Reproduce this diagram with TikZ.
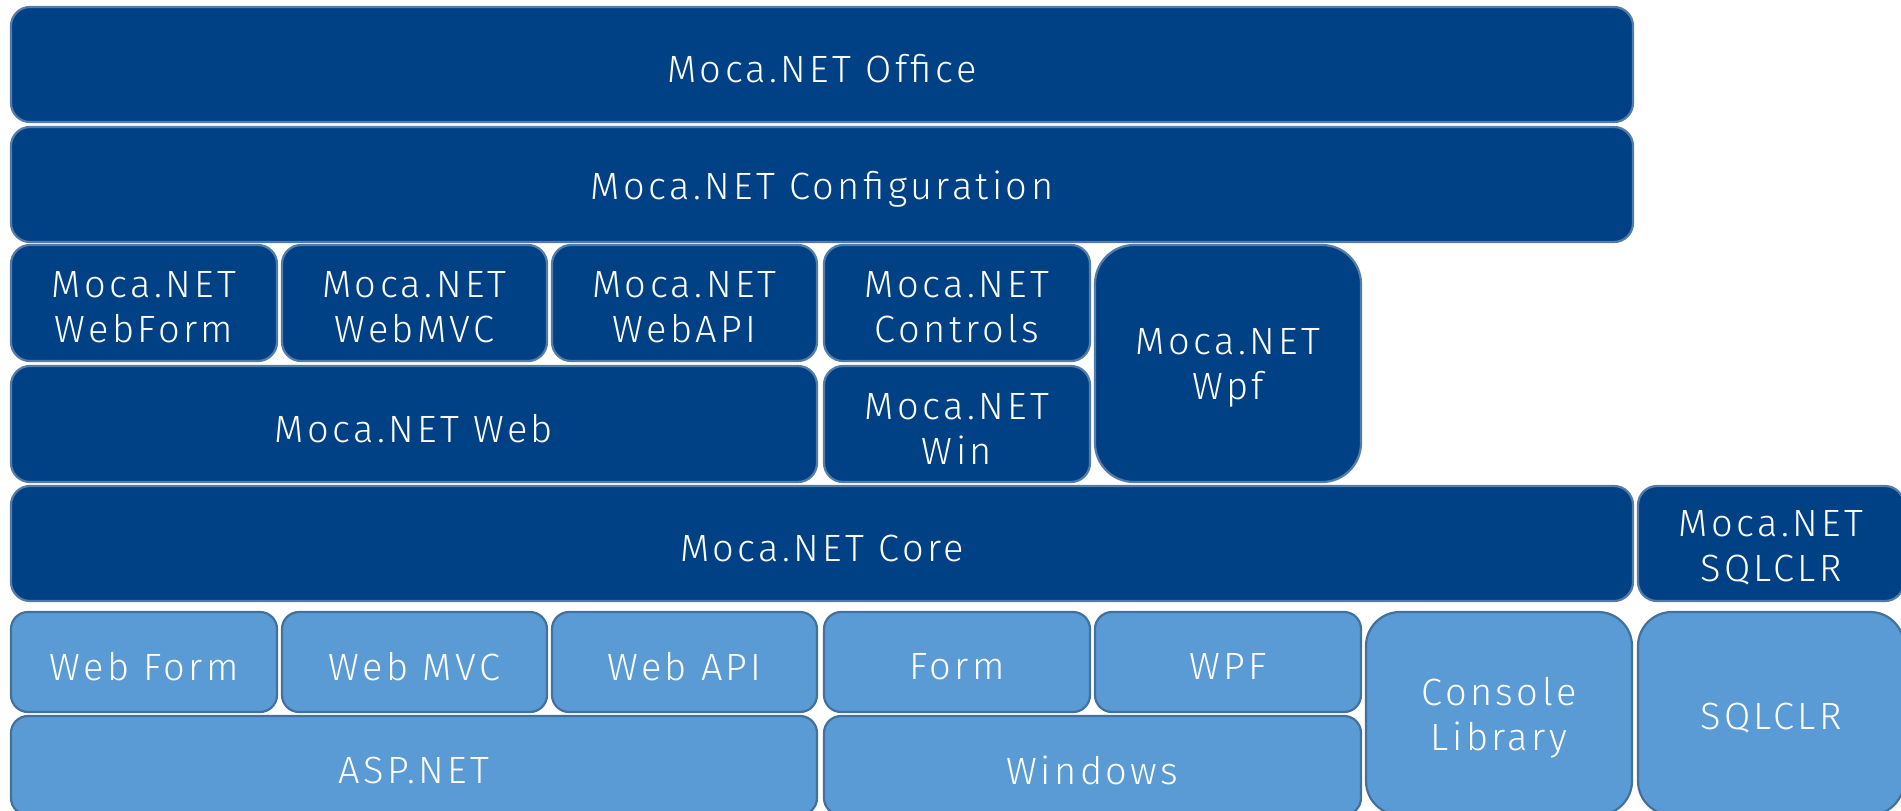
\documentclass[tikz,border=0pt]{standalone}
\usepackage{fontspec}
\setmainfont{Fira Sans}[UprightFont={* Light}, LetterSpace=9]
\definecolor{dkfill}{RGB}{0,65,134}
\definecolor{dkline}{RGB}{84,124,168}
\definecolor{ltfill}{RGB}{91,155,213}
\definecolor{ltline}{RGB}{65,113,156}
\tikzset{
  blk/.style={rectangle, inner sep=0pt, outer sep=0pt, line width=2.2pt},
  dk/.style={blk, fill=dkfill, draw=dkline},
  lt/.style={blk, fill=ltfill, draw=ltline},
  txt/.style={inner sep=0pt, text=white, align=center, font=\fontsize{38}{45}\selectfont},
}
% \bx{name}{style}{x1}{y1}{x2}{y2}{radius}{text}
\newcommand{\bx}[8]{%
  \node[#2, rounded corners=#7pt, minimum width={(#5-#3)*1pt}, minimum height={(#6-#4)*1pt}]
    (#1) at ({(#3+#5)/2},{(#4+#6)/2}) {};
  \node[txt] (#1-t) at ([yshift=-4.5pt]#1.center) {#8};}
\begin{document}
\begin{tikzpicture}[x=1pt,y=-1pt]
\useasboundingbox (0,0) rectangle (1901,811);
\clip (0,0) rectangle (1901,811);
\bx{office}{dk}{11}{7}{1633}{122}{19}{Moca.NET Office}
\bx{config}{dk}{11}{127}{1633}{242}{19}{Moca.NET Configuration}
\bx{mwebform}{dk}{11}{245}{277}{361}{19}{Moca.NET\\WebForm}
\bx{mwebmvc}{dk}{282}{245}{547}{361}{19}{Moca.NET\\WebMVC}
\bx{mwebapi}{dk}{552}{245}{817}{361}{19}{Moca.NET\\WebAPI}
\bx{mcontrols}{dk}{824}{245}{1090}{361}{19}{Moca.NET\\Controls}
\bx{mwpf}{dk}{1095}{245}{1361}{482}{39}{Moca.NET\\Wpf}
\bx{mweb}{dk}{11}{366}{817}{482}{19}{Moca.NET Web}
\bx{mwin}{dk}{824}{366}{1090}{482}{19}{Moca.NET\\Win}
\bx{mcore}{dk}{11}{486}{1633}{601}{19}{Moca.NET Core}
\bx{msqlclr}{dk}{1638}{486}{1904}{601}{19}{Moca.NET\\SQLCLR}
\bx{webform}{lt}{11}{612}{277}{712}{17}{Web Form}
\bx{webmvc}{lt}{282}{612}{547}{712}{17}{Web MVC}
\bx{webapi}{lt}{552}{612}{817}{712}{17}{Web API}
\bx{form}{lt}{824}{612}{1090}{712}{17}{Form}
\bx{wpf}{lt}{1095}{612}{1361}{712}{17}{WPF}
\bx{console}{lt}{1366}{612}{1632}{815}{34}{Console\\Library}
\bx{sqlclr}{lt}{1638}{612}{1904}{815}{34}{SQLCLR}
\bx{aspnet}{lt}{11}{716}{817}{815}{17}{ASP.NET}
\bx{windows}{lt}{824}{716}{1361}{815}{17}{Windows}
\end{tikzpicture}
\end{document}
